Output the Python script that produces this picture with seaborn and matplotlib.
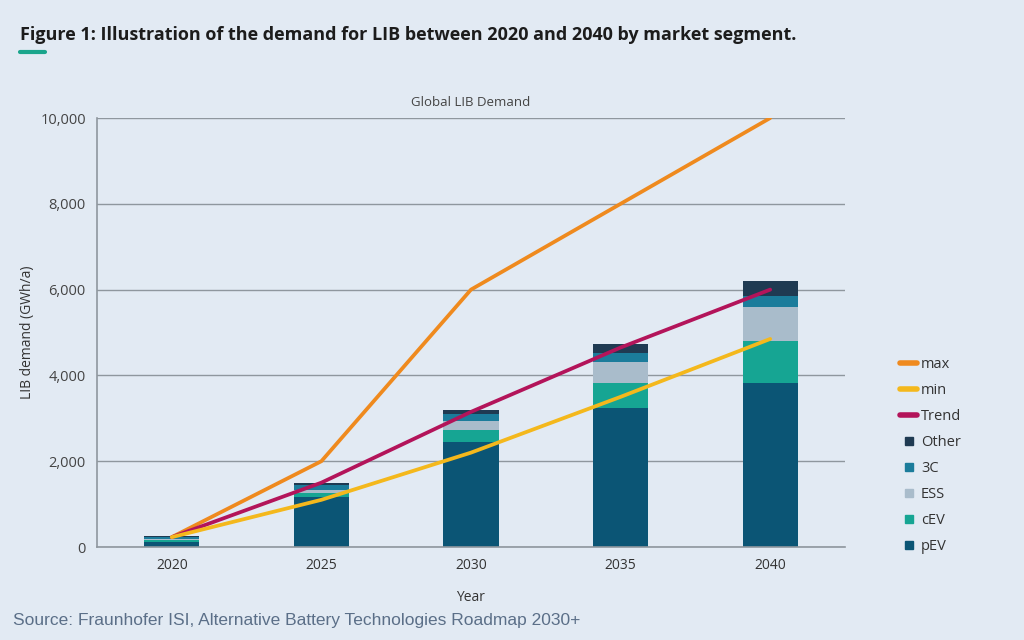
import numpy as np
import pandas as pd
import seaborn as sns
import matplotlib.pyplot as plt
from matplotlib.lines import Line2D

# data (GWh/a)
years = ['2020', '2025', '2030', '2035', '2040']
pEV = [125, 1170, 2450, 3250, 3820]
cEV = [30, 80, 275, 580, 980]
ESS = [40, 80, 215, 490, 800]
C3 = [30, 115, 150, 195, 250]
Other = [40, 55, 100, 215, 350]
line_max = [230, 2000, 6000, 8000, 10000]
line_min = [230, 1100, 2200, 3500, 4850]
line_trend = [230, 1500, 3150, 4650, 6000]

segments = ['pEV', 'cEV', 'ESS', '3C', 'Other']
seg_values = [pEV, cEV, ESS, C3, Other]
seg_colors = ['#0b5575', '#16a593', '#a9bccb', '#1b7c9b', '#1f3a52']
line_colors = {'max': '#ef8a1e', 'min': '#f4b81c', 'Trend': '#b3145a'}

bg = '#e2eaf3'
grid_c = '#8f979e'

sns.set_theme(style='white')
plt.rcParams['font.family'] = ['Open Sans', 'DejaVu Sans']

fig = plt.figure(figsize=(10.24, 6.4), dpi=100, facecolor=bg)
ax = fig.add_axes([0.0947, 0.1453, 0.7305, 0.6703])
ax.set_facecolor(bg)

# stacked bars: draw cumulative totals from top down
cum = np.cumsum(np.array(seg_values), axis=0)
for i in range(len(segments) - 1, -1, -1):
    df = pd.DataFrame({'Year': years, 'val': cum[i]})
    sns.barplot(data=df, x='Year', y='val', color=seg_colors[i], width=0.37,
                saturation=1, linewidth=0, edgecolor='none', ax=ax, zorder=2)

xpos = np.arange(len(years))
for name, vals in [('max', line_max), ('Trend', line_trend), ('min', line_min)]:
    sns.lineplot(x=xpos, y=vals, color=line_colors[name], linewidth=2.7,
                 ax=ax, zorder=3)

ax.set_xlim(-0.5, 4.5)
ax.set_ylim(0, 10000)
ax.set_yticks(np.arange(0, 10001, 2000))
ax.set_yticklabels([f'{v:,}' for v in range(0, 10001, 2000)], fontsize=10.5, color='#444444')
ax.set_xticks(xpos)
ax.set_xticklabels(years, fontsize=10, color='#333333')
ax.tick_params(axis='both', length=0, pad=8)
# small inward ticks between categories
ax.set_xticks(np.arange(0.5, 5, 1), minor=True)
ax.tick_params(axis='x', which='minor', direction='in', length=6, color=grid_c, width=1)
ax.yaxis.grid(True, color=grid_c, linewidth=1)
ax.set_axisbelow(True)
for s in ['top', 'right']:
    ax.spines[s].set_visible(False)
for s in ['left', 'bottom']:
    ax.spines[s].set_color(grid_c)
    ax.spines[s].set_linewidth(1.2)

ax.set_xlabel('Year', fontsize=10, color='#333333', labelpad=12)
ax.set_ylabel('LIB demand (GWh/a)', fontsize=10, color='#333333', labelpad=4)
ax.set_title('Global LIB Demand', fontsize=9.5, color='#444444', pad=9)

# legend
handles = []
for name in ['max', 'min', 'Trend']:
    handles.append(Line2D([], [], color=line_colors[name], linewidth=4))
for i in range(len(segments) - 1, -1, -1):
    handles.append(Line2D([], [], color=seg_colors[i], marker='s', linestyle='none', markersize=5.5))
labels = ['max', 'min', 'Trend'] + segments[::-1]
fig.legend(handles, labels, loc='upper left', bbox_to_anchor=(0.866, 0.462),
           frameon=False, fontsize=10.5, labelcolor='#333333', handlelength=1.2,
           handletextpad=0.25, labelspacing=0.75)

fig.text(0.02, 0.937, 'Figure 1: Illustration of the demand for LIB between 2020 and 2040 by market segment.',
         fontsize=13, fontweight='bold', color='#1c1c1c', fontstretch='condensed')
fig.add_artist(Line2D([0.02, 0.044], [0.918, 0.918], color='#1aa58c', linewidth=3))
fig.text(0.013, 0.023, 'Source: Fraunhofer ISI, Alternative Battery Technologies Roadmap 2030+',
         fontsize=12.5, color='#5b6f88', family=['Liberation Sans', 'DejaVu Sans'])

fig.savefig('out.png', dpi=100, facecolor=bg)
